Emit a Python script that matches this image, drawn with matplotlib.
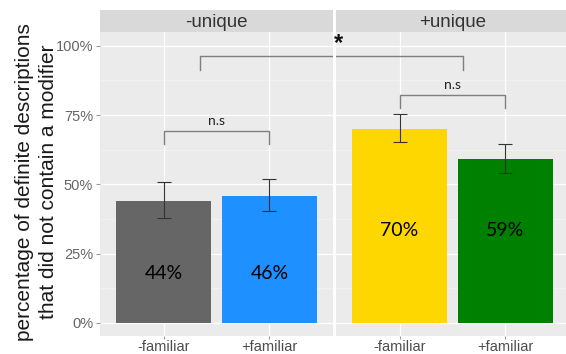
import matplotlib
matplotlib.use("Agg")
import matplotlib.pyplot as plt

# Daten: Anteil definiter Beschreibungen ohne Modifikator
panels = ["-unique", "+unique"]
categories = ["-familiar", "+familiar"]
values = [[0.44, 0.46], [0.70, 0.59]]
err_low = [[0.379, 0.404], [0.652, 0.540]]
err_high = [[0.507, 0.518], [0.754, 0.646]]
bar_labels = [["44%", "46%"], ["70%", "59%"]]
colors = [["#666666", "#1E90FF"], ["#FFD700", "#008000"]]
yticks = [0, 0.25, 0.5, 0.75, 1.0]
ytick_labels = ["0%", "25%", "50%", "75%", "100%"]

plt.rcParams["font.family"] = ["Liberation Sans", "DejaVu Sans"]

fig = plt.figure(figsize=(5.66, 3.54), dpi=100)
W, H = 566, 354

def px_axes(x0, y0, x1, y1):
    return fig.add_axes([x0 / W, 1 - y1 / H, (x1 - x0) / W, (y1 - y0) / H])

ax1 = px_axes(100, 32, 333, 336)
ax2 = px_axes(336, 32, 569, 336)
axes = [ax1, ax2]
edges = [(100, 333), (336, 569)]

label_y = [0.18, 0.335]
for i, ax in enumerate(axes):
    ax.set_facecolor("#EBEBEB")
    ax.set_xlim(0.4, 2.6)
    ax.set_ylim(-0.047, 1.05)
    for m in [0.125, 0.375, 0.625, 0.875]:
        ax.axhline(m, color="#F5F5F5", lw=0.5, zorder=0)
    for t in yticks:
        ax.axhline(t, color="white", lw=0.9, zorder=0)
    for xc in [1, 2]:
        ax.axvline(xc, color="white", lw=0.9, zorder=0)
    xs = [1, 2]
    ax.bar(xs, values[i], width=0.9, color=colors[i], zorder=2)
    for j, x in enumerate(xs):
        ax.errorbar(x, values[i][j],
                    yerr=[[values[i][j] - err_low[i][j]], [err_high[i][j] - values[i][j]]],
                    fmt="none", ecolor="#333333", elinewidth=0.8, capsize=5,
                    capthick=0.8, zorder=3)
        ax.text(x, label_y[i], bar_labels[i][j], ha="center", va="center",
                fontsize=14, family=["Lato", "DejaVu Sans"], color="black", zorder=4)
    for s in ax.spines.values():
        s.set_visible(False)
    ax.set_xticks(xs)
    ax.set_xticklabels(categories, fontsize=10.5, color="#4D4D4D")
    ax.tick_params(axis="x", length=2.5, color="#999999", pad=0.5)
    ax.set_yticks(yticks)
    if i == 0:
        ax.set_yticklabels(ytick_labels, fontsize=10.5, color="#666666")
        ax.tick_params(axis="y", length=3, color="#999999", pad=2)
    else:
        ax.tick_params(axis="y", left=False, labelleft=False)
    # Streifen oben mit Panel-Titel
    strip = px_axes(edges[i][0], 10, edges[i][1], 32)
    strip.set_facecolor("#D9D9D9")
    strip.set_xticks([])
    strip.set_yticks([])
    for s in strip.spines.values():
        s.set_visible(False)
    strip.text(0.5, 0.45, panels[i], ha="center", va="center", fontsize=13.5,
               color="#333333", transform=strip.transAxes)

# Signifikanz-Klammern
bcol = "#7F7F7F"
def bracket(ax, x0, x1, ytop, ylow, label, label_y_pos):
    ax.plot([x0, x0, x1, x1], [ylow, ytop, ytop, ylow], color=bcol, lw=1.0,
            clip_on=False, zorder=5)
    ax.text((x0 + x1) / 2, label_y_pos, label, ha="center", va="center",
            fontsize=10, family=["Lato", "DejaVu Sans"], color="#222222")

bracket(ax1, 1, 2, 0.693, 0.646, "n.s", 0.73)
bracket(ax2, 1, 2, 0.823, 0.775, "n.s", 0.86)

# Klammer über beide Panels (am Panelrand unterbrochen)
ax1.plot([1.346, 1.346, 2.6], [0.913, 0.963, 0.963], color=bcol, lw=1.0, zorder=5)
ax2.plot([0.4, 1.6, 1.6], [0.963, 0.963, 0.913], color=bcol, lw=1.0, zorder=5)
fig.text(338 / W, 1 - 44 / H, "*", ha="center", va="center", fontsize=17,
         fontweight="bold", color="#111111")

fig.text(25 / W, 1 - 182 / H, "percentage of definite descriptions",
         rotation=90, ha="center", va="center", fontsize=15, color="#1A1A1A")
fig.text(49 / W, 1 - 182 / H, "that did not contain a modifier",
         rotation=90, ha="center", va="center", fontsize=15, color="#1A1A1A")

fig.savefig("out.png", dpi=100, facecolor="white")
